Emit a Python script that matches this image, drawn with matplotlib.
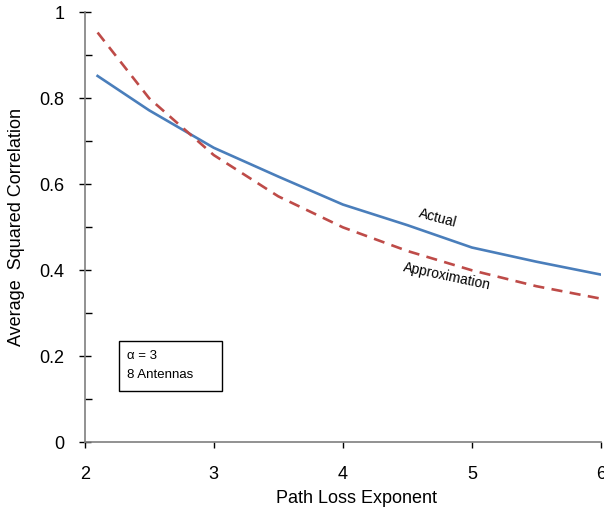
import matplotlib
matplotlib.use("Agg")
import matplotlib.pyplot as plt
from matplotlib.ticker import MultipleLocator
from matplotlib.patches import Rectangle

plt.rcParams['font.family'] = ['Liberation Sans', 'DejaVu Sans']

path_loss = [2.1, 2.5, 3.0, 3.5, 4.0, 4.5, 5.0, 5.5, 6.0]
actual = [0.852, 0.772, 0.685, 0.618, 0.553, 0.505, 0.453, 0.420, 0.390]
approximation = [0.953, 0.800, 0.668, 0.572, 0.500, 0.445, 0.400, 0.363, 0.334]

x_ticks = [2, 3, 4, 5, 6]
y_ticks = [0, 0.2, 0.4, 0.6, 0.8, 1]
y_tick_labels = ["0", "0.2", "0.4", "0.6", "0.8", "1"]

fig = plt.figure(figsize=(6.04, 5.13), dpi=100)
ax = fig.add_axes([0.1402, 0.1378, 0.8548, 0.8382])

ax.plot(path_loss, actual, color='#4a7ebb', lw=1.9, solid_joinstyle='round')
ax.plot(path_loss, approximation, color='#be4b48', lw=1.9, dashes=(4.2, 2.8))

ax.set_xlim(2, 6)
ax.set_ylim(0, 1)
ax.set_xticks(x_ticks)
ax.set_xticklabels([str(v) for v in x_ticks])
ax.set_yticks(y_ticks)
ax.set_yticklabels(y_tick_labels)
ax.yaxis.set_minor_locator(MultipleLocator(0.1))

for s in ['top', 'right']:
    ax.spines[s].set_visible(False)
for s in ['left', 'bottom']:
    ax.spines[s].set_color('#7f7f7f')
    ax.spines[s].set_linewidth(1.2)

ax.tick_params(axis='x', which='major', direction='out', length=4, width=1,
               color='black', labelsize=13, pad=13)
ax.tick_params(axis='y', which='major', direction='inout', length=9, width=1,
               color='black', labelsize=13, pad=10)
ax.tick_params(axis='y', which='minor', direction='in', length=5, width=1,
               color='black')

ax.set_xlabel('Path Loss Exponent', fontsize=13)
ax.xaxis.set_label_coords(0.527, -0.112)
ax.set_ylabel('Average  Squared Correlation', fontsize=13)
ax.yaxis.set_label_coords(-0.115, 0.5)

ax.text(4.737, 0.522, 'Actual', rotation=-15, fontsize=10,
        ha='center', va='center', rotation_mode='anchor')
ax.text(4.808, 0.385, 'Approximation', rotation=-12, fontsize=10,
        ha='center', va='center', rotation_mode='anchor')

ax.add_patch(Rectangle((2.268, 0.1193), 3.061 - 2.268, 0.2356 - 0.1193,
                       fc='white', ec='black', lw=1, zorder=3))
ax.text(2.325, 0.2007, 'α = 3', fontsize=9.5, ha='left', va='center', zorder=4)
ax.text(2.325, 0.1565, '8 Antennas', fontsize=9.5, ha='left', va='center', zorder=4)

fig.savefig('out.png', dpi=100)
